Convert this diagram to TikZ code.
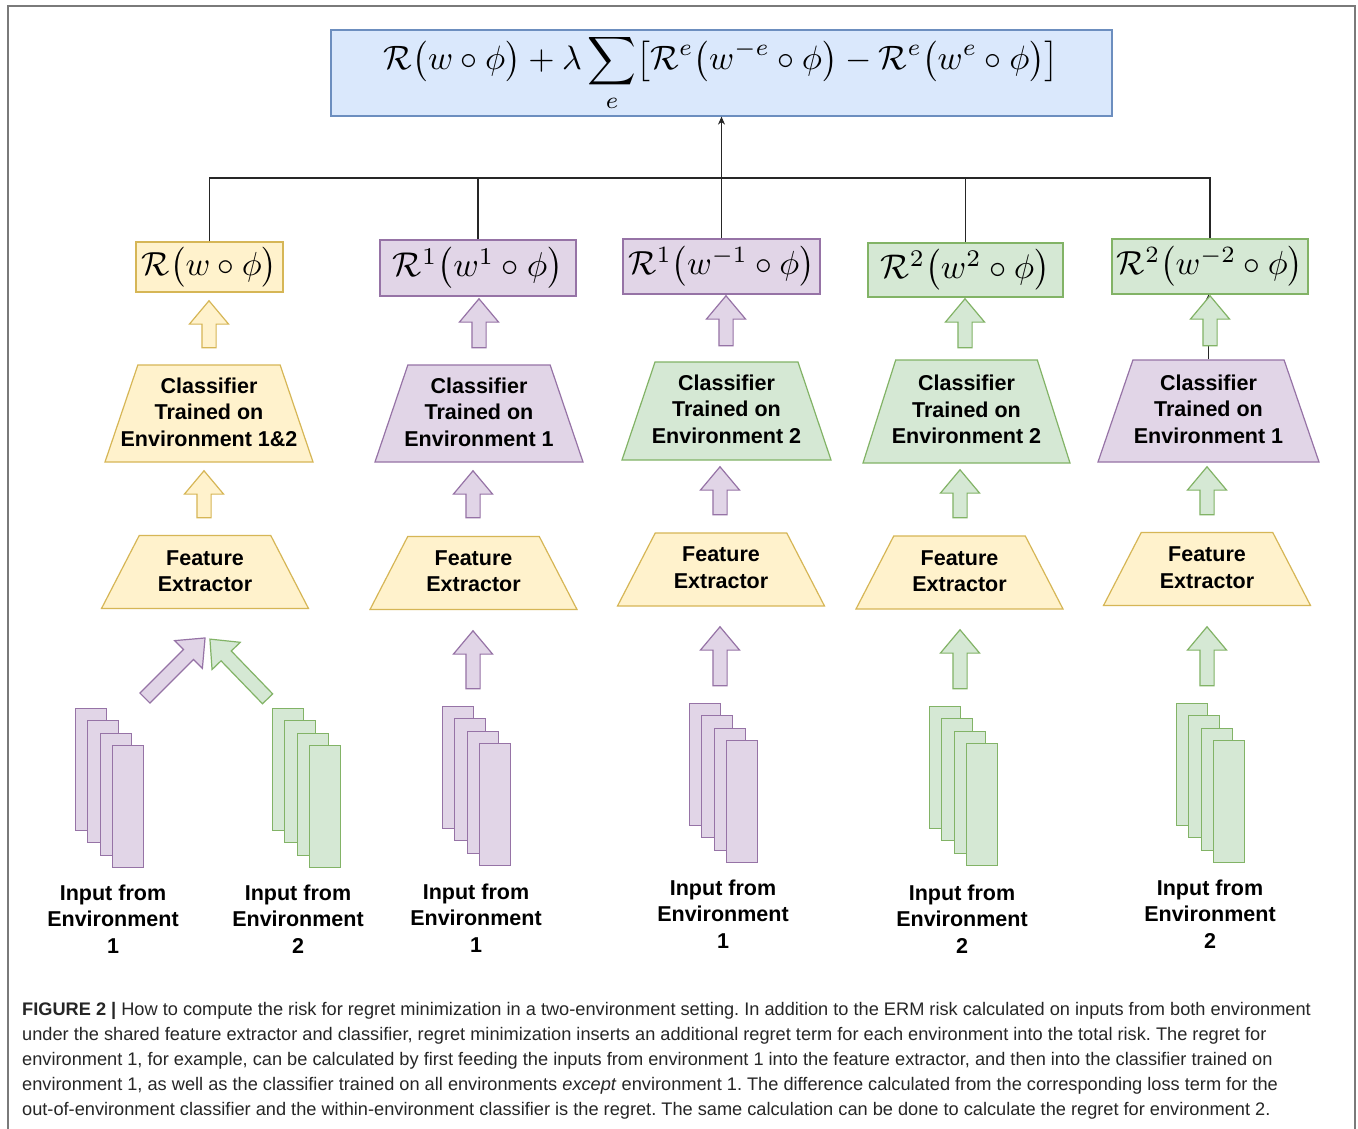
\documentclass[tikz,border=0pt]{standalone}
\usepackage{amsmath}
\usepackage{graphicx}
\usepackage[no-math]{fontspec}
\setmainfont{Liberation Sans}
\usetikzlibrary{shapes.geometric,shapes.arrows,arrows.meta}
\definecolor{yfill}{HTML}{FFF2CC}\definecolor{ydraw}{HTML}{D6B656}
\definecolor{pfill}{HTML}{E1D5E7}\definecolor{pdraw}{HTML}{9673A6}
\definecolor{gfill}{HTML}{D5E8D4}\definecolor{gdraw}{HTML}{82B366}
\definecolor{bfill}{HTML}{DAE8FC}\definecolor{bdraw}{HTML}{6C8EBF}
\definecolor{framecol}{HTML}{7A7A7A}
\definecolor{captcol}{HTML}{262626}
\newcommand\labfont{\fontsize{21.5}{26.5}\selectfont\bfseries}
\newcommand\capfont{\fontsize{18.2}{25}\selectfont\frenchspacing}
\begin{document}
\begin{tikzpicture}[x=1pt,y=-1pt,
  yel/.style={fill=yfill,draw=ydraw},
  pur/.style={fill=pfill,draw=pdraw},
  grn/.style={fill=gfill,draw=gdraw},
  blu/.style={fill=bfill,draw=bdraw},
  rbox/.style={rectangle,line width=1.2pt,inner sep=0pt},
  clf/.style={trapezium,trapezium stretches=true,line width=1.2pt,inner sep=3pt,
    trapezium left angle=77,trapezium right angle=77},
  fex/.style={trapezium,trapezium stretches=true,line width=1.2pt,inner sep=3pt,
    minimum width=207pt,minimum height=73pt,
    trapezium left angle=74,trapezium right angle=74},
  lbl/.style={font=\labfont,align=center,inner sep=0pt,text=black},
  barrow/.style={single arrow,single arrow head extend=12.5pt,single arrow tip angle=80,
    single arrow head indent=0pt,minimum width=38pt,inner xsep=0pt,inner ysep=6.5pt,line width=1.2pt},
  page/.style={rectangle,line width=1.2pt,inner sep=0pt,minimum width=31pt,minimum height=122pt,anchor=north west},
  conn/.style={draw=black!85,line width=1.2pt}
]
\useasboundingbox (0,0) rectangle (1358,1128);
\fill[white] (0,0) rectangle (1358,1128);
\draw[framecol,line width=1.6pt] (8,6) rectangle (1355,1140);

% top formula
\node[rbox,blu,minimum width=781pt,minimum height=86pt] (top) at (721.5,73)
  {\resizebox{675pt}{!}{$\displaystyle \mathcal{R}\bigl(w\circ\phi\bigr)+\lambda\sum_{e}\bigl[\mathcal{R}^{e}\bigl(w^{-e}\circ\phi\bigr)-\mathcal{R}^{e}\bigl(w^{e}\circ\phi\bigr)\bigr]$}};

% risk boxes
\node[rbox,yel,minimum width=147pt,minimum height=50pt] (r1) at (209.5,267)
  {\resizebox{135pt}{!}{$\mathcal{R}\bigl(w\circ\phi\bigr)$}};
\node[rbox,pur,minimum width=196pt,minimum height=56pt] (r2) at (478,268)
  {\resizebox{170pt}{!}{$\mathcal{R}^{1}\bigl(w^{1}\circ\phi\bigr)$}};
\node[rbox,pur,minimum width=197pt,minimum height=55pt] (r3) at (721.5,266.5)
  {\resizebox{186pt}{!}{$\mathcal{R}^{1}\bigl(w^{-1}\circ\phi\bigr)$}};
\node[rbox,grn,minimum width=195pt,minimum height=54pt] (r4) at (965.5,270)
  {\resizebox{169pt}{!}{$\mathcal{R}^{2}\bigl(w^{2}\circ\phi\bigr)$}};
\node[rbox,grn,minimum width=196pt,minimum height=55pt] (r5) at (1210,266.5)
  {\resizebox{186pt}{!}{$\mathcal{R}^{2}\bigl(w^{-2}\circ\phi\bigr)$}};

% connectors to formula
\coordinate (j) at (721.5,178);
\draw[conn] (r1.north) |- (j);
\draw[conn] (r2.north) |- (j);
\draw[conn] (r4.north) |- (j);
\draw[conn] (r5.north) |- (j);
\draw[conn,-{Stealth[length=8pt,width=7pt]}] (r3.north) -- (top.south);

% classifiers
\node[clf,yel,minimum width=208pt,minimum height=97pt] (c1) at (209,413.5) {};
\node[clf,pur,minimum width=208pt,minimum height=97pt] (c2) at (479,413.5) {};
\node[clf,grn,minimum width=209pt,minimum height=98pt] (c3) at (726.5,411) {};
\node[clf,grn,minimum width=207pt,minimum height=103pt] (c4) at (966.5,411.5) {};
\node[clf,pur,minimum width=221pt,minimum height=102pt] (c5) at (1208.5,411) {};
\node[lbl] (c1t) at (209,412) {Classifier\\Trained on\\Environment 1\&2};
\node[lbl] (c2t) at (479,412) {Classifier\\Trained on\\Environment 1};
\node[lbl] (c3t) at (726.5,409) {Classifier\\Trained on\\Environment 2};
\node[lbl] (c4t) at (966.5,409.5) {Classifier\\Trained on\\Environment 2};
\node[lbl] (c5t) at (1208.5,409) {Classifier\\Trained on\\Environment 1};

% feature extractors
\node[fex,yel] (f1) at (205,572) {};
\node[fex,yel] (f2) at (473.5,573) {};
\node[fex,yel] (f3) at (721,569.5) {};
\node[fex,yel] (f4) at (959.5,572.5) {};
\node[fex,yel] (f5) at (1207,569) {};
\node[lbl] (f1t) at (205,571) {Feature\\Extractor};
\node[lbl] (f2t) at (473.5,571) {Feature\\Extractor};
\node[lbl] (f3t) at (721,567.5) {Feature\\Extractor};
\node[lbl] (f4t) at (959.5,571) {Feature\\Extractor};
\node[lbl] (f5t) at (1207,567.5) {Feature\\Extractor};

% thin connector in column 5
\draw[conn,-{Stealth[length=6pt,width=6pt]}] (c5.north) -- (c5.north |- r5.south);

% block arrows
\node[barrow,yel,minimum height=47pt,rotate=90] (a1t) at (209,328.5) {};
\node[barrow,yel,minimum height=47pt,rotate=90] (a1m) at (204,498.5) {};
\node[barrow,pur,minimum height=49pt,rotate=90] (a2t) at (479,327.5) {};
\node[barrow,pur,minimum height=47pt,rotate=90] (a2m) at (473,498.5) {};
\node[barrow,pur,minimum height=58pt,rotate=90] (a2i) at (473,664) {};
\node[barrow,pur,minimum height=50pt,rotate=90] (a3t) at (726,325) {};
\node[barrow,pur,minimum height=48pt,rotate=90] (a3m) at (720,495) {};
\node[barrow,pur,minimum height=59pt,rotate=90] (a3i) at (720,660.5) {};
\node[barrow,grn,minimum height=49pt,rotate=90] (a4t) at (965,327.5) {};
\node[barrow,grn,minimum height=48pt,rotate=90] (a4m) at (960,498) {};
\node[barrow,grn,minimum height=59pt,rotate=90] (a4i) at (960,663.5) {};
\node[barrow,grn,minimum height=50pt,rotate=90] (a5t) at (1210,325) {};
\node[barrow,grn,minimum height=48pt,rotate=90] (a5m) at (1207,495) {};
\node[barrow,grn,minimum height=59pt,rotate=90] (a5i) at (1207,660.5) {};
\node[barrow,pur,minimum height=85pt,rotate=45] (a1p) at (172,671) {};
\node[barrow,grn,minimum height=83pt,rotate=134] (a1g) at (241.7,672) {};

% input stacks
\foreach \nm/\sx/\sy/\st in {s1a/75/708/pur,s1b/272/708/grn,s2/442/706/pur,s3/689/703/pur,s4/929/706/grn,s5/1176/703/grn}{
  \foreach \k/\d in {0/0,1/12,2/25,3/37}{
    \node[page,\st] (\nm p\k) at ({\sx+\d},{\sy+\d}) {};
  }
}

% input labels
\node[lbl] (l1a) at (113,919) {Input from\\Environment\\1};
\node[lbl] (l1b) at (298,919) {Input from\\Environment\\2};
\node[lbl] (l2) at (476,918) {Input from\\Environment\\1};
\node[lbl] (l3) at (723,914) {Input from\\Environment\\1};
\node[lbl] (l4) at (962,919) {Input from\\Environment\\2};
\node[lbl] (l5) at (1210,914) {Input from\\Environment\\2};

% caption
\node[anchor=north west,align=left,inner sep=0pt,font=\capfont,text=captcol] (cap) at (22,1002)
{\textbf{FIGURE 2 |} How to compute the risk for regret minimization in a two-environment setting. In addition to the ERM risk calculated on inputs from both environment\\
under the shared feature extractor and classifier, regret minimization inserts an additional regret term for each environment into the total risk. The regret for\\
environment 1, for example, can be calculated by first feeding the inputs from environment 1 into the feature extractor, and then into the classifier trained on\\
environment 1, as well as the classifier trained on all environments \textit{except} environment 1. The difference calculated from the corresponding loss term for the\\
out-of-environment classifier and the within-environment classifier is the regret. The same calculation can be done to calculate the regret for environment 2.};
\end{tikzpicture}
\end{document}
